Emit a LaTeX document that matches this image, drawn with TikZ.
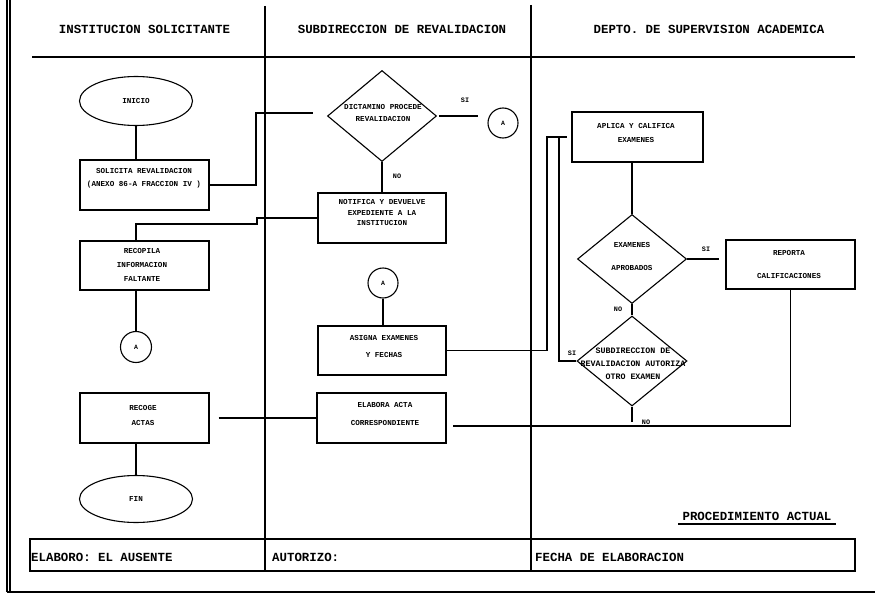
\documentclass[tikz,border=0pt]{standalone}
\usepackage{fontspec}
\newfontfamily\mono{Liberation Mono}
\usetikzlibrary{shapes.geometric}

\tikzset{
  ln/.style={line width=1.1pt},
  boxnode/.style={draw, line width=1.1pt, rectangle, inner sep=0pt},
  oval/.style={draw, line width=1.1pt, ellipse, inner sep=0pt},
  decision/.style={draw, line width=1.1pt, diamond, inner sep=0pt},
  connector/.style={draw, line width=1.1pt, circle, inner sep=0pt, minimum size=31pt,
    font=\mono\bfseries\fontsize{6.5}{8}\selectfont},
  txt/.style={inner sep=0pt, align=center, font=\mono\bfseries\fontsize{7.6}{#1}\selectfont},
  txt/.default=10,
  head/.style={inner sep=0pt, font=\mono\bfseries\fontsize{12.4}{14}\selectfont},
  tag/.style={inner sep=0pt, font=\mono\bfseries\fontsize{6.8}{8}\selectfont}
}

\begin{document}
\begin{tikzpicture}[x=1pt,y=-1pt]
\useasboundingbox (0,0) rectangle (875,594);

% outer frame
\draw[ln] (7,0) -- (7,592);
\draw[ln] (10,0) -- (10,592);
\draw[ln] (7,592) -- (875,592);

% lanes and header
\draw[ln] (265,6) -- (265,571);
\draw[ln] (531,5) -- (531,571);
\draw[ln] (32,57) -- (855,57);
\node[head] (h1) at (144.5,29.5) {INSTITUCION SOLICITANTE};
\node[head] (h2) at (402,29.5) {SUBDIRECCION DE REVALIDACION};
\node[head] (h3) at (709,29.5) {DEPTO. DE SUPERVISION ACADEMICA};

% footer
\draw[ln] (30,539) rectangle (855,571);
\node[head, anchor=base west] (f1) at (31,561) {ELABORO: EL AUSENTE};
\node[head, anchor=base west] (f2) at (272,561) {AUTORIZO:};
\node[head, anchor=base west] (f3) at (535,561) {FECHA DE ELABORACION};
\node[head] (proc) at (757,516) {PROCEDIMIENTO ACTUAL};
\draw[ln] (678,524) -- (836,524);

% --- INSTITUCION SOLICITANTE ---
\node[oval, minimum width=113pt, minimum height=49pt] (inicio) at (136,101) {};
\node[txt] (t-inicio) at (136,101) {INICIO};
\node[boxnode, minimum width=129pt, minimum height=50pt] (solicita) at (144.5,185) {};
\node[txt=13] (t-solicita) at (144,178.5) {SOLICITA REVALIDACION\\(ANEXO 86-A FRACCION IV )};
\node[boxnode, minimum width=129pt, minimum height=49pt] (recopila) at (144.5,265.5) {};
\node[txt=14] (t-recopila) at (142,265) {RECOPILA\\INFORMACION\\FALTANTE};
\node[connector] (a1) at (136,347) {A};
\node[boxnode, minimum width=129pt, minimum height=50pt] (recoge) at (144.5,418) {};
\node[txt=15] (t-recoge) at (143,415.5) {RECOGE\\ACTAS};
\node[oval, minimum width=113pt, minimum height=47pt] (fin) at (136,499) {};
\node[txt] (t-fin) at (136,499) {FIN};

% --- SUBDIRECCION DE REVALIDACION ---
\node[decision, minimum width=109pt, minimum height=91pt] (dict) at (382,116) {};
\node[txt=12] (t-dict) at (383,113) {DICTAMINO PROCEDE\\REVALIDACION};
\node[connector, minimum size=30pt] (a2) at (503,123) {A};
\node[boxnode, minimum width=128pt, minimum height=50pt] (notifica) at (382,218) {};
\node[txt=10.5] (t-notifica) at (382,212.5) {NOTIFICA Y DEVUELVE\\EXPEDIENTE A LA\\INSTITUCION};
\node[connector, minimum size=30pt] (a3) at (383,283) {A};
\node[boxnode, minimum width=128pt, minimum height=49pt] (asigna) at (382,350.5) {};
\node[txt=17] (t-asigna) at (384,346.5) {ASIGNA EXAMENES\\Y FECHAS};
\node[boxnode, minimum width=129pt, minimum height=50pt] (elabora) at (381.5,418) {};
\node[txt=18] (t-elabora) at (385,414) {ELABORA ACTA\\CORRESPONDIENTE};

% --- DEPTO. DE SUPERVISION ACADEMICA ---
\node[boxnode, minimum width=131pt, minimum height=50pt] (aplica) at (637.5,137) {};
\node[txt=14] (t-aplica) at (636,133) {APLICA Y CALIFICA\\EXAMENES};
\node[decision, minimum width=109pt, minimum height=89pt] (aprob) at (632,259) {};
\node[txt=23] (t-aprob) at (632,256.5) {EXAMENES\\APROBADOS};
\node[boxnode, minimum width=129pt, minimum height=49pt] (reporta) at (790.5,264.5) {};
\node[txt=23] (t-reporta) at (789,264.5) {REPORTA\\CALIFICACIONES};
\node[decision, minimum width=110pt, minimum height=90pt] (otro) at (632,361) {};
\node[inner sep=0pt, align=center, font=\mono\bfseries\fontsize{8.3}{13}\selectfont] (t-otro) at (633,364)
  {SUBDIRECCION DE\\REVALIDACION AUTORIZA\\OTRO EXAMEN};

% branch labels
\node[tag] (si1) at (465,100) {SI};
\node[tag] (no1) at (397,176) {NO};
\node[tag] (si2) at (706,249) {SI};
\node[tag] (no2) at (618,309) {NO};
\node[tag] (si3) at (572,353) {SI};
\node[tag] (no3) at (646,422) {NO};

% free line ends
\coordinate (dict-in) at (313,113);
\coordinate (si1-end) at (478,116);
\coordinate (otro-end) at (632,422);
\coordinate (elab-in) at (453,426);
\coordinate (lane1) at (136,0);

% connectors
\draw[ln] (inicio.south) -- (inicio.south |- solicita.north);
\draw[ln] (solicita.east) -- (256,185) -- (256,113) -- (dict-in);
\draw[ln] (lane1 |- recopila.north) -- (136,224) -- (257,224) -- (257,218) -- (notifica.west);
\draw[ln] (lane1 |- recopila.south) -- (a1.north);
\draw[ln] (fin.north |- recoge.south) -- (fin.north);
\draw[ln, shorten <=9pt] (recoge.east) -- (elabora.west);

\draw[ln, shorten <=2pt] (dict.east) -- (si1-end);
\draw[ln] (dict.south) -- (notifica.north);
\draw[ln] (a3.south) -- (a3.south |- asigna.north);
\draw[ln, shorten >=4pt] (asigna.east) -- (547,350.5) -- (547,137) -- (aplica.west);
\draw[ln] (otro.west) -- (559,361) -- (559,137);

\draw[ln] (aprob.north |- aplica.south) -- (aprob.north);
\draw[ln, shorten >=6pt] (aprob.east) -- (aprob.east -| reporta.west);
\draw[ln] (aprob.south) -- (otro.north);
\draw[ln] (otro.south) -- (otro-end);
\draw[ln] (reporta.south) |- (elab-in);

\end{tikzpicture}
\end{document}
